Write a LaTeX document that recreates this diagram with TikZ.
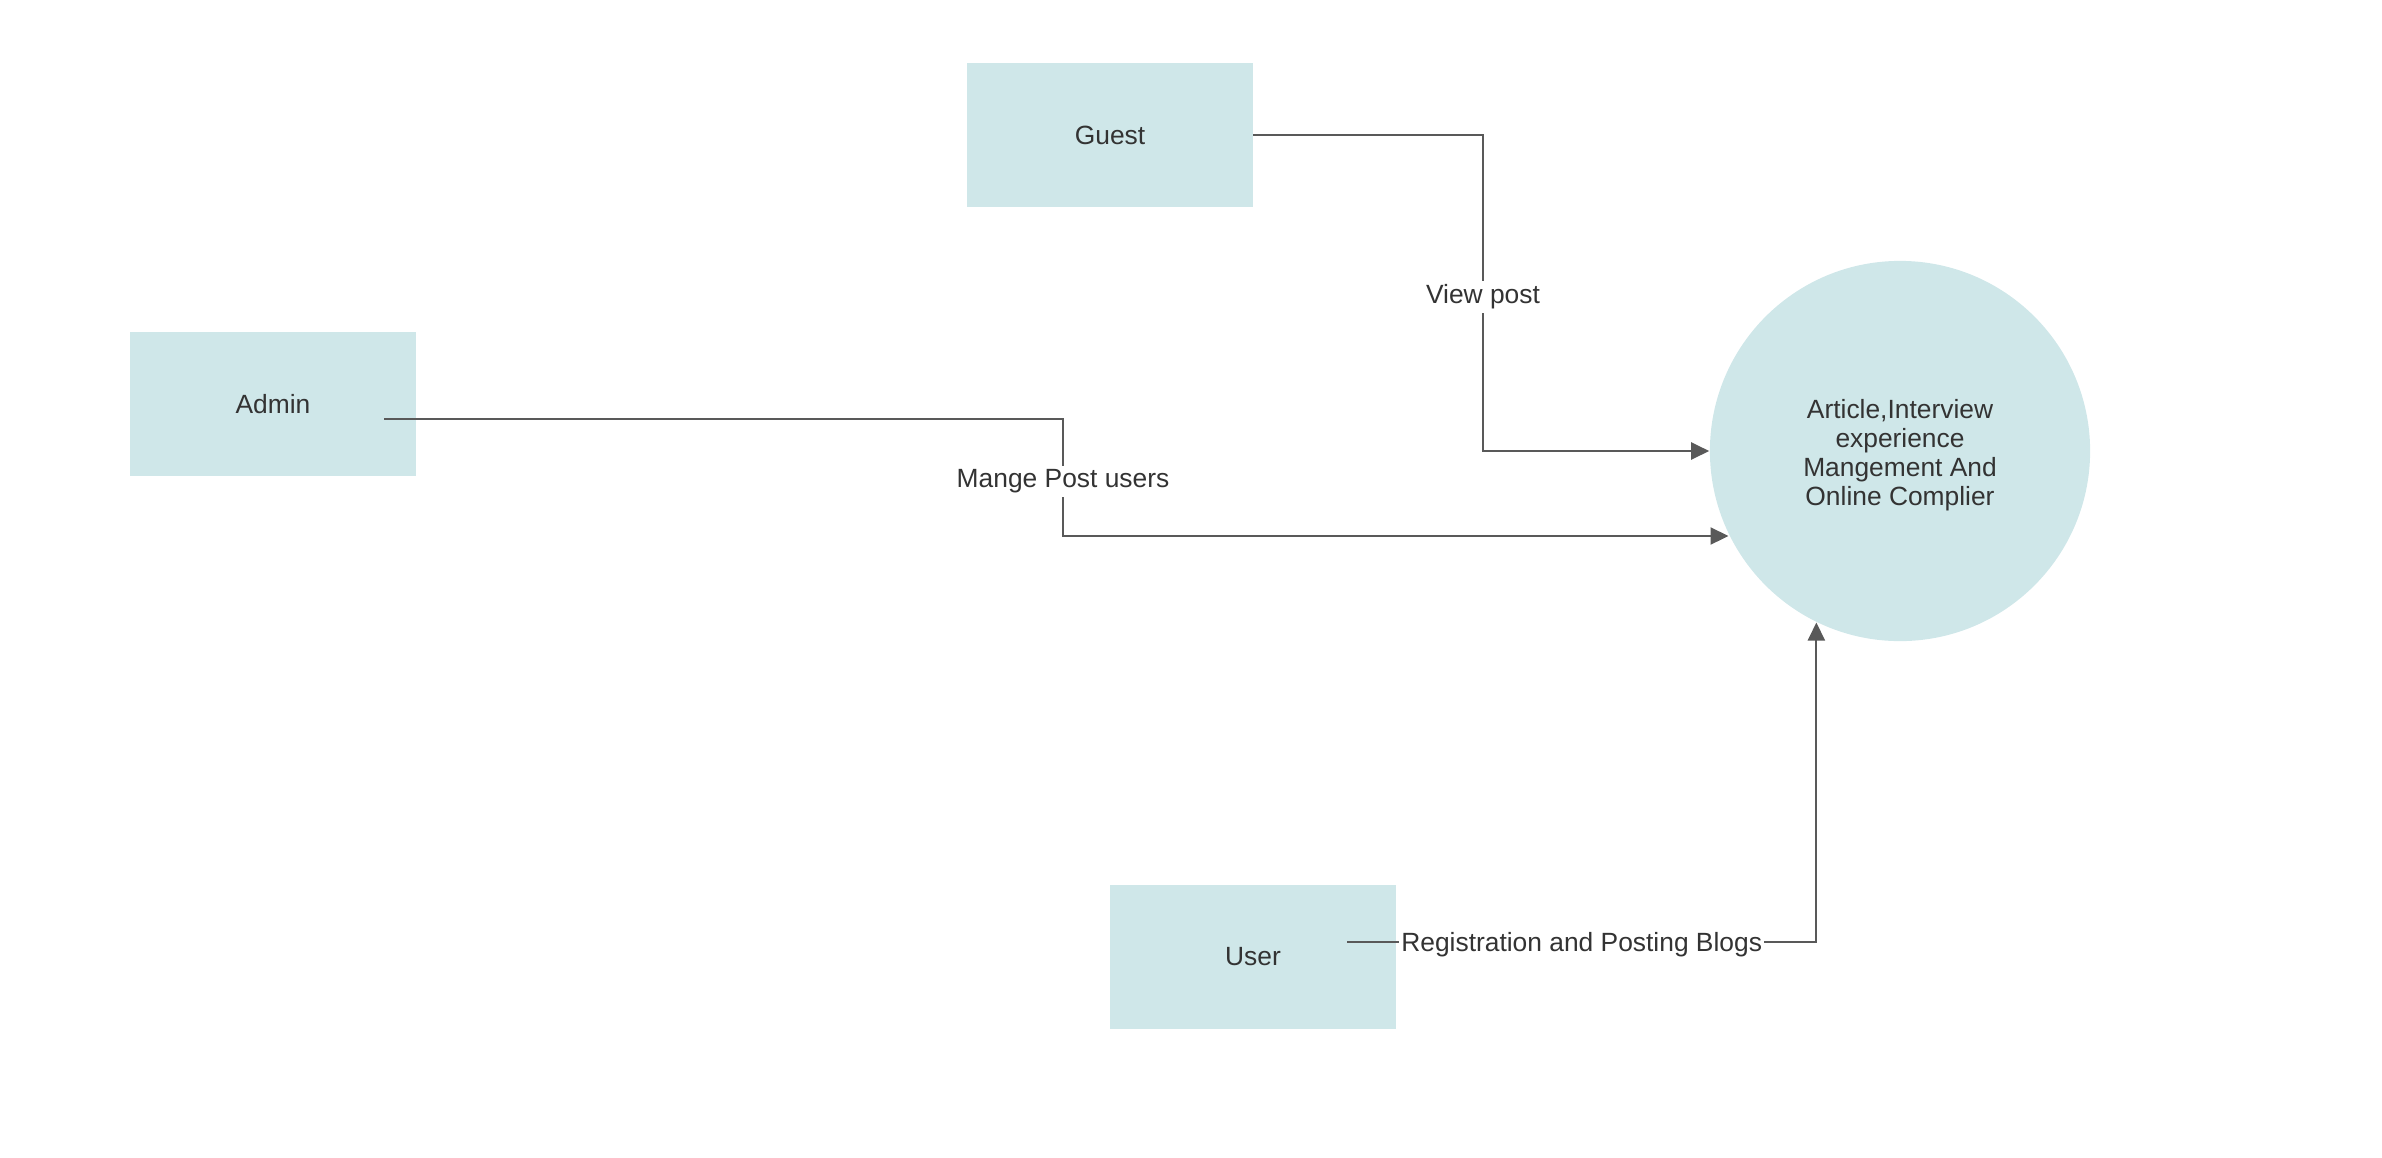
\documentclass[tikz,border=0pt]{standalone}
\usepackage{fontspec}
\setmainfont{Liberation Sans}
\usetikzlibrary{arrows.meta,calc}
\definecolor{boxfill}{HTML}{CFE7E9}
\definecolor{txt}{HTML}{333333}
\definecolor{ln}{HTML}{595959}
\tikzset{
  entity/.style={rectangle, fill=boxfill, draw=none, minimum width=2.85cm, minimum height=1.43cm, inner sep=0pt, text=txt, font=\fontsize{7.5pt}{9pt}\selectfont},
  proc/.style={circle, fill=boxfill, draw=none, minimum size=3.8cm, inner sep=0pt, text=txt, align=center, font=\fontsize{7.5pt}{8.3pt}\selectfont},
  flow/.style={draw=ln, line width=0.6pt, -{Triangle[length=0.18cm,width=0.17cm]}},
  lbl/.style={fill=white, inner sep=1pt, text=txt, yshift=-0.04cm, font=\fontsize{7.5pt}{9pt}\selectfont}
}
\begin{document}
\begin{tikzpicture}[x=0.01cm,y=-0.01cm]
\useasboundingbox (0,0) rectangle (2382,1157);
\node[entity] (guest) at (1110,135) {Guest};
\node[entity] (admin) at (273,404) {Admin};
\node[entity] (user) at (1253,957) {User};
\node[proc] (circ) at (1900,451) {};
\node[text=txt, align=center, inner sep=0pt, font=\fontsize{7.5pt}{8.3pt}\selectfont] (circtext) at (1900,455) {Article,Interview\\experience\\Mangement And\\Online Complier};
\coordinate (g1) at (1483,135);
\coordinate (g2) at (1483,451);
\coordinate (as) at (384,419);
\coordinate (a1) at (1063,419);
\coordinate (a2) at (1063,536);
\coordinate (us) at (1347,942);
\draw[flow] (guest.east) -- (g1) -- node[lbl, pos=0.5] {View post} (g2) -- (circ.west);
\draw[flow] (as) -- (a1) -- node[lbl, pos=0.5] {Mange Post users} (a2) -- (a2 -| circ.206.6);
\draw[flow] (us) -- node[lbl, pos=0.5, inner sep=0.6pt, yshift=0.01cm] {Registration and Posting Blogs} (us -| circ.244.1) -- (circ.244.1);
\end{tikzpicture}
\end{document}
